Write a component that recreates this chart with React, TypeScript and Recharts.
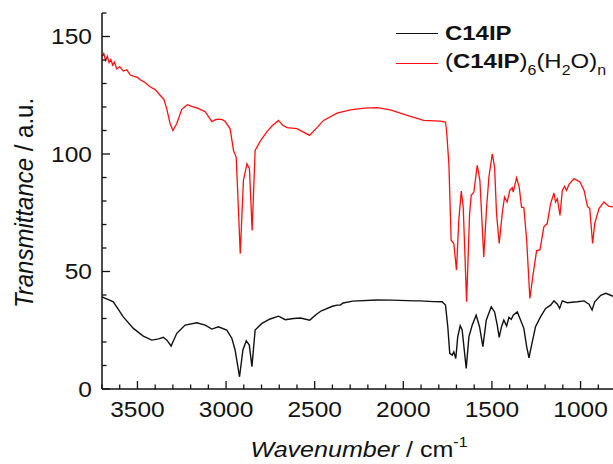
import { Legend, Line, LineChart, XAxis, YAxis } from "recharts";

// FTIR spectra, [wavenumber (cm-1), transmittance (a.u.)]
const blackSpectrum: [number, number][] = [
  [3700, 39.2], [3636, 37.1], [3580, 30.7], [3523, 25.8], [3467, 22.5], [3419, 20.8],
  [3380, 21.3], [3354, 22], [3334, 20.8], [3310, 18.3], [3278, 23.7], [3231, 27.2],
  [3165, 28.2], [3118, 27.2], [3080, 25.5], [3043, 26.5], [2996, 25.1], [2967, 21.5],
  [2949, 16.6], [2924, 5.2], [2905, 16.6], [2886, 20.5], [2869, 18.7], [2854, 9.5],
  [2836, 25.1], [2798, 27.9], [2751, 29.8], [2704, 31], [2666, 29.5], [2619, 30],
  [2580, 30.2], [2528, 29.3], [2490, 31.8], [2462, 33.3], [2400, 35.2], [2374, 35.7],
  [2355, 35.7], [2340, 36.6], [2285, 37.4], [2150, 37.9], [2064, 37.8], [1934, 37.5],
  [1903, 37.5], [1830, 37.2], [1781, 37.1], [1762, 35.7], [1749, 26.5], [1738, 15.2],
  [1724, 14.4], [1715, 15.8], [1704, 13], [1693, 22.2], [1679, 26.9], [1668, 25.1],
  [1645, 8.8], [1630, 22.2], [1611, 27.2], [1589, 31.4], [1570, 26.5], [1551, 18],
  [1532, 29.3], [1504, 35], [1485, 32.8], [1470, 27.2], [1459, 22], [1446, 26.5],
  [1433, 29.3], [1417, 26.8], [1404, 30.5], [1391, 29.6], [1380, 31.4], [1357, 32.8],
  [1338, 29.3], [1320, 25.8], [1304, 18], [1291, 13.3], [1278, 18], [1254, 26.5],
  [1226, 30.7], [1197, 34.3], [1169, 35.7], [1150, 37.5], [1131, 36.1], [1118, 34.3],
  [1103, 37.5], [1075, 36.7], [1018, 37.1], [980, 37.5], [965, 36.7], [952, 36.1],
  [935, 33.6], [920, 37.1], [886, 39.9], [858, 40.7], [830, 39.9], [800, 39],
];

const redSpectrum: [number, number][] = [
  [3700, 141.5], [3690, 142.8], [3680, 139.8], [3670, 141.6], [3660, 138.9], [3650, 140.2],
  [3640, 137.8], [3630, 139.1], [3617, 136.2], [3600, 137.2], [3580, 135.3], [3560, 135.8],
  [3540, 133.6], [3523, 133.1], [3500, 132.6], [3480, 131.4], [3460, 130.6], [3429, 128.6],
  [3400, 127.4], [3372, 125], [3350, 123.2], [3334, 119], [3316, 113], [3300, 110],
  [3278, 113], [3250, 119], [3218, 121], [3190, 120.2], [3165, 119.6], [3140, 118.8],
  [3118, 118], [3100, 116], [3080, 113.8], [3060, 114.6], [3043, 114.8], [3020, 114.6],
  [3005, 113.8], [2977, 110.7], [2958, 101.5], [2943, 98.7], [2935, 85], [2920, 57.6],
  [2902, 88.8], [2882, 95.9], [2868, 93.7], [2853, 67.5], [2836, 101.5], [2807, 105.5],
  [2769, 109.5], [2740, 112], [2704, 114.3], [2680, 112.2], [2656, 111.2], [2600, 110.8],
  [2563, 109.3], [2529, 107.9], [2487, 111.2], [2450, 114.3], [2374, 117.4], [2299, 118.8],
  [2220, 119.5], [2148, 119.7], [2073, 118.8], [1978, 116.4], [1885, 114.3], [1790, 114],
  [1762, 113.6], [1756, 110], [1743, 95.9], [1730, 63.3], [1715, 61.9], [1700, 50.6],
  [1687, 71.8], [1673, 84.2], [1662, 77.4], [1643, 37.1], [1626, 74.6], [1617, 82.4],
  [1602, 83.8], [1583, 95.2], [1568, 88.8], [1546, 56.2], [1530, 77.4], [1517, 90.2],
  [1498, 100.1], [1485, 94.4], [1474, 74.6], [1459, 61.9], [1442, 74.6], [1429, 81.7],
  [1414, 79.6], [1399, 84.5], [1385, 85.7], [1380, 83.8], [1361, 89.9], [1346, 85.9],
  [1333, 77.4], [1320, 77.2], [1304, 63.3], [1286, 38.5], [1267, 49.2], [1248, 58.8],
  [1229, 59.3], [1207, 69], [1188, 70.4], [1169, 78.9], [1150, 83.4], [1141, 79.6],
  [1131, 81], [1116, 73.9], [1103, 84.5], [1090, 86.2], [1079, 84.5], [1065, 87.1],
  [1037, 89.5], [1003, 88.1], [980, 84.5], [961, 77.7], [948, 76.8], [932, 61.9],
  [920, 70.4], [896, 76.8], [868, 79.6], [840, 77.7], [800, 77.4],
];

const xMajor = [1000, 1500, 2000, 2500, 3000, 3500];
const yMajor = [0, 50, 100, 150];
const xTicks = Array.from({ length: 30 }, (_, i) => 800 + i * 100);
const yTicks = Array.from({ length: 17 }, (_, i) => i * 10);

const FONT = '"Liberation Sans", Arial, sans-serif';
const STRETCH = 1.14; // glyphs in the original are a bit wide
const INK = "#111";

const toRows = (s: [number, number][]) => s.map(([wn, t]) => ({ wn, t }));

function XTick({ x, y, payload }: any) {
  const major = xMajor.includes(payload.value);
  return (
    <g>
      <line x1={x} x2={x} y1={y} y2={y - (major ? 8 : 4.5)} stroke={INK} strokeWidth={1.3} />
      {major && (
        <text
          transform={`translate(${x},${y + 28}) scale(${STRETCH},1)`}
          textAnchor="middle"
          fontSize={21.5}
          fontFamily={FONT}
          fill={INK}
        >
          {payload.value}
        </text>
      )}
    </g>
  );
}

function YTick({ x, y, payload }: any) {
  const major = yMajor.includes(payload.value);
  return (
    <g>
      <line x1={x} x2={x + (major ? 8 : 4.5)} y1={y} y2={y} stroke={INK} strokeWidth={1.3} />
      {major && (
        <text
          transform={`translate(${x - 10},${y + 7.5}) scale(${STRETCH},1)`}
          textAnchor="end"
          fontSize={21.5}
          fontFamily={FONT}
          fill={INK}
        >
          {payload.value}
        </text>
      )}
    </g>
  );
}

function XTitle({ viewBox }: any) {
  const cx = viewBox.x + viewBox.width / 2;
  return (
    <text
      transform={`translate(${cx},${viewBox.y + 68}) scale(${STRETCH},1)`}
      textAnchor="middle"
      fontSize={22}
      fontFamily={FONT}
      fill={INK}
    >
      <tspan fontStyle="italic">Wavenumber</tspan>
      <tspan> / cm</tspan>
      <tspan fontSize={14} dy={-10}>-1</tspan>
    </text>
  );
}

function YTitle({ viewBox }: any) {
  const cy = viewBox.y + viewBox.height / 2 + 2;
  return (
    <text
      transform={`translate(33,${cy}) scale(1.06,1) rotate(-90)`}
      textAnchor="middle"
      fontSize={24}
      fontFamily={FONT}
      fill={INK}
    >
      <tspan fontStyle="italic">Transmittance</tspan>
      <tspan> / a.u.</tspan>
    </text>
  );
}

function SpectraLegend() {
  const row = { display: "flex", alignItems: "center", height: 30 } as const;
  const swatch = (c: string) => (
    <span style={{ width: 42, height: 0, borderTop: `1.5px solid ${c}`, marginRight: 7 }} />
  );
  const txt = {
    display: "inline-block",
    transform: `scaleX(${STRETCH})`,
    transformOrigin: "left center",
    fontFamily: FONT,
    fontSize: 21,
    color: INK,
    whiteSpace: "nowrap",
  } as const;
  const sub = { fontSize: 14, verticalAlign: -7 } as const;
  return (
    <div>
      <div style={row}>
        {swatch("#111")}
        <span style={{ ...txt, fontWeight: "bold" }}>C14IP</span>
      </div>
      <div style={row}>
        {swatch("#ff1010")}
        <span style={txt}>
          (<b>C14IP</b>)<span style={sub}>6</span>(H<span style={sub}>2</span>O)
          <span style={sub}>n</span>
        </span>
      </div>
    </div>
  );
}

export default function App() {
  return (
    <div
      style={{
        position: "absolute",
        left: 0,
        top: 0,
        width: 613,
        height: 464,
        overflow: "hidden",
        background: "#fff",
      }}
    >
      <LineChart width={616} height={464} margin={{ top: 13, right: 0, bottom: 0, left: 0 }}>
        <XAxis
          dataKey="wn"
          type="number"
          domain={[800, 3700]}
          reversed
          ticks={xTicks}
          interval={0}
          height={75}
          tickSize={0}
          tickMargin={0}
          tickLine={false}
          tick={<XTick />}
          axisLine={{ stroke: INK, strokeWidth: 1.5 }}
          label={{ content: <XTitle /> }}
        />
        <XAxis
          xAxisId="top"
          orientation="top"
          type="number"
          domain={[800, 3700]}
          reversed
          height={0}
          tick={false}
          tickLine={false}
          axisLine={{ stroke: INK, strokeWidth: 1.5 }}
        />
        <YAxis
          type="number"
          domain={[0, 160]}
          ticks={yTicks}
          interval={0}
          width={102}
          tickSize={0}
          tickMargin={0}
          tickLine={false}
          tick={<YTick />}
          axisLine={{ stroke: INK, strokeWidth: 1.5 }}
          label={{ content: <YTitle /> }}
        />
        <Legend
          layout="vertical"
          align="center"
          verticalAlign="middle"
          content={<SpectraLegend />}
          wrapperStyle={{ left: 396, top: 18, width: 220, height: 60 }}
        />
        <Line
          data={toRows(blackSpectrum)}
          dataKey="t"
          type="linear"
          stroke="#111"
          strokeWidth={1.4}
          dot={false}
          isAnimationActive={false}
        />
        <Line
          data={toRows(redSpectrum)}
          dataKey="t"
          type="linear"
          stroke="#ff1010"
          strokeWidth={1.3}
          dot={false}
          isAnimationActive={false}
        />
      </LineChart>
    </div>
  );
}
